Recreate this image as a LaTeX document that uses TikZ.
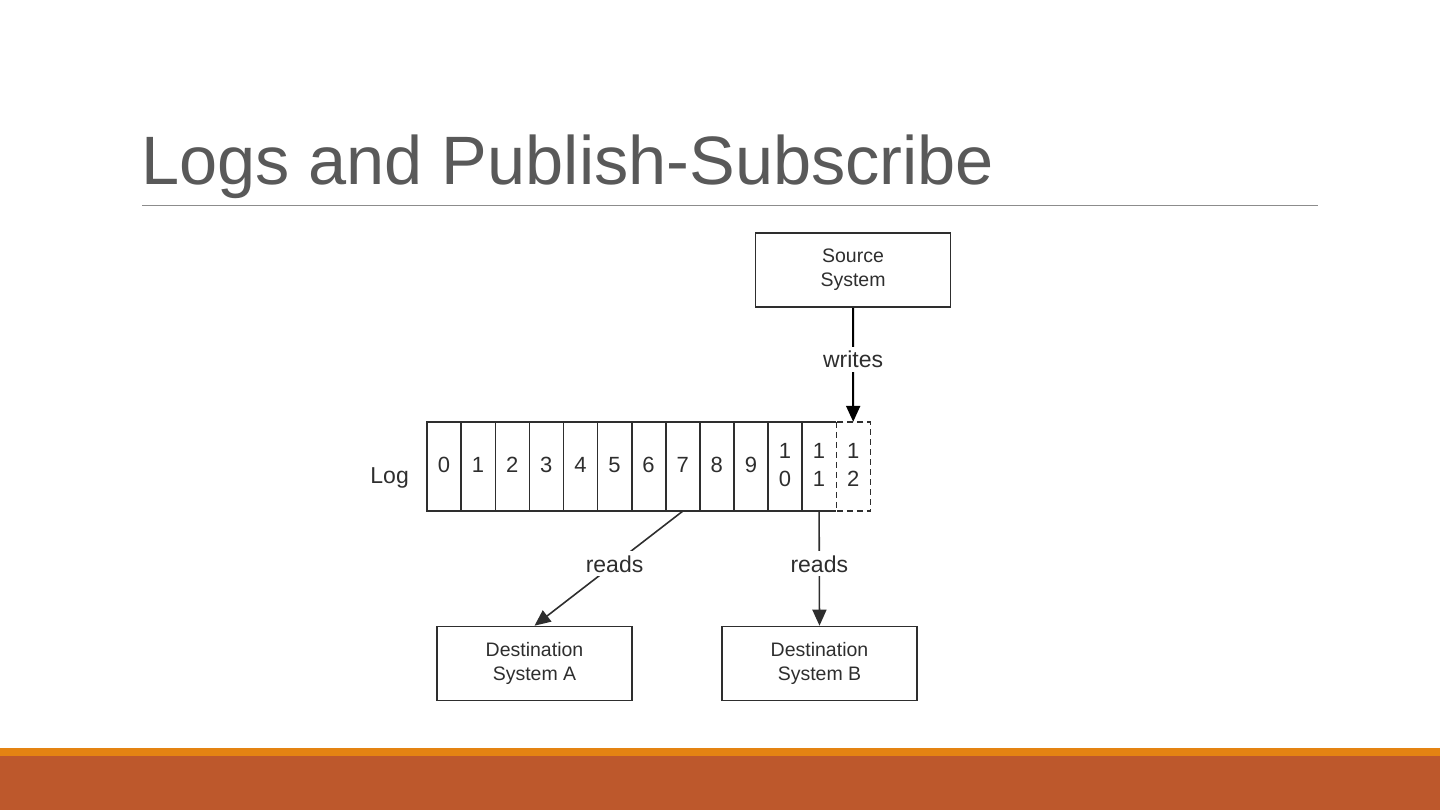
\documentclass[tikz,border=0pt]{standalone}
\usepackage{fontspec}
\setmainfont{Liberation Sans}
\usetikzlibrary{arrows.meta}

\definecolor{titlegray}{HTML}{595959}
\definecolor{rulegray}{HTML}{8C8C8C}
\definecolor{inkgray}{HTML}{2E2E2E}
\definecolor{barorange}{HTML}{E48312}
\definecolor{barrust}{HTML}{BD582C}

\tikzset{
  sysbox/.style={draw=inkgray, line width=1.6pt, minimum width=195pt, minimum height=74pt,
    align=center, text=inkgray, font=\fontsize{19.5}{24}\selectfont},
  cell/.style={minimum width=34.1pt, minimum height=89pt, inner sep=0pt},
  digit/.style={inner sep=0pt, align=center, text=inkgray, font=\fontsize{22}{28}\selectfont},
  lbl/.style={fill=white, inner sep=4pt, text=inkgray, font=\fontsize{23}{28}\selectfont}
}

\begin{document}
\begin{tikzpicture}[x=1pt, y=-1pt, >={Triangle[length=16pt, width=14pt]}]
            \useasboundingbox (0,0) rectangle (1440,810);
            \fill[barorange] (0,748) rectangle (1440,756);
            \fill[barrust] (0,756) rectangle (1440,810);

            \node[anchor=base west, inner sep=0pt, text=titlegray, font=\fontsize{68.5}{80}\selectfont] (title) at (141,185) {Logs and Publish-Subscribe};
            \draw[rulegray, line width=1pt] (142,205.5) -- (1318,205.5);

            \foreach \i/\txt in {0/0, 1/1, 2/2, 3/3, 4/4, 5/5, 6/6, 7/7, 8/8, 9/9, 10/{\strut1\\\strut0}, 11/{\strut1\\\strut1}, 12/{\strut1\\\strut2}} {
                \node[cell] (c\i) at (444+34.1*\i, 466.5) {};
                \node[digit] (d\i) at (c\i) {\strut\txt};
            }
            \draw[inkgray, line width=1.6pt] (c11.north east) -- (c0.north west) -- (c0.south west) -- (c11.south east);
            \foreach \i in {0,...,10}
                \draw[inkgray, line width=1.6pt] (c\i.north east) -- (c\i.south east);
            \draw[inkgray, line width=1.6pt, dash pattern=on 6pt off 4pt] (c11.north east) rectangle (c12.south east);
            \node[anchor=base east, inner sep=0pt, text=inkgray, font=\fontsize{23}{28}\selectfont] (log) at (409,483) {Log};

            \node[sysbox] (src) at (853,270) {Source\\System};
            \node[sysbox] (dstA) at (534.5,663.5) {Destination\\System A};
            \node[sysbox] (dstB) at (819.5,663.5) {Destination\\System B};

            \draw[->, line width=2pt, black] (src.south) -- node[lbl, pos=0.45] {writes} (c12.north);
            \draw[->, line width=1.6pt, inkgray] (c7.south) -- node[lbl, pos=0.46] {reads} (dstA.north);
            \draw[->, line width=1.6pt, inkgray] (c11.south) -- node[lbl, pos=0.46] {reads} (dstB.north);
        \end{tikzpicture}
\end{document}
